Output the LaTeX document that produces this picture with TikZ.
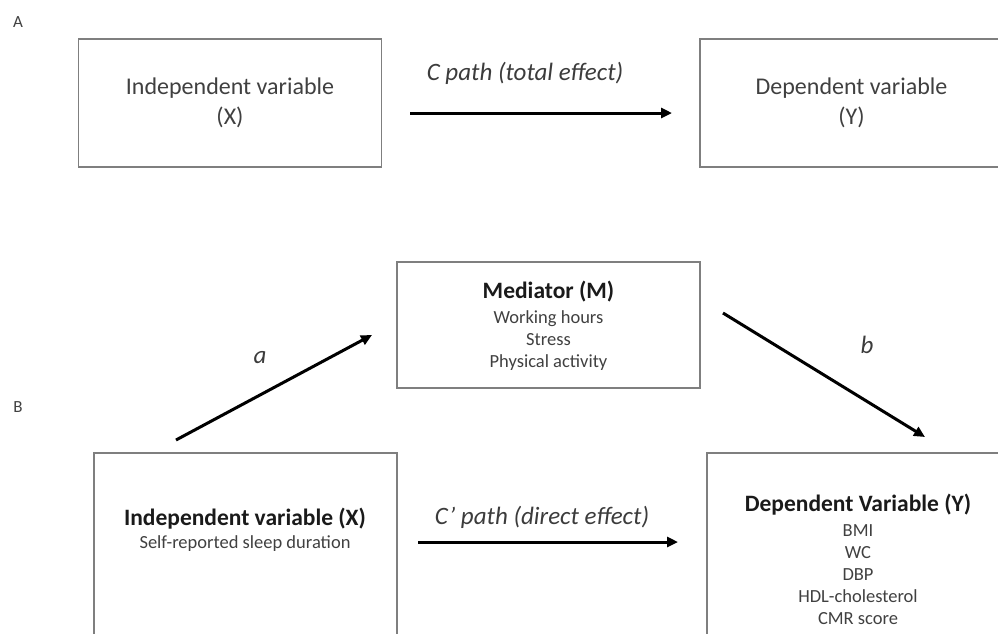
\documentclass[tikz,border=0pt]{standalone}
\usepackage{fontspec}
\setmainfont{Carlito}
\usetikzlibrary{arrows.meta}
\definecolor{boxgray}{HTML}{7F7F7F}
\definecolor{txtgray}{HTML}{404040}
\definecolor{titleblk}{HTML}{1A1A1A}
\begin{document}
\begin{tikzpicture}[x=1pt,y=-1pt,
  box/.style={draw=boxgray, line width=1.3pt, inner sep=0pt, minimum width=303pt, align=center},
  boxtext/.style={text=txtgray, align=center, font=\fontsize{24}{30}\selectfont},
  ttl/.style={text=titleblk, font=\fontsize{23.5}{26}\selectfont\bfseries, inner sep=0pt},
  lst/.style={text=txtgray, align=center, font=\fontsize{18.5}{22}\selectfont, inner sep=0pt},
  pathlbl/.style={text=titleblk!85, font=\fontsize{25}{28}\selectfont\itshape, inner sep=0pt},
  panel/.style={text=txtgray, font=\fontsize{17}{20}\selectfont, inner sep=0pt},
  arr/.style={line width=3pt, -{Triangle[length=11pt,width=10pt]}}]
\useasboundingbox (0,0) rectangle (998,633);
% panel letters
\node[panel] (pa) at (18,22) {A};
\node[panel] (pb) at (18,407) {B};
% Panel A
\node[box, minimum height=128pt, boxtext] (xa) at (230,103) {Independent variable\\(X)};
\node[box, minimum height=128pt, boxtext] (ya) at (851.5,103) {Dependent variable\\(Y)};
\coordinate (ca1) at (410,113);
\coordinate (ca2) at (672,113);
\draw[arr] (ca1) -- (ca2);
\node[pathlbl] (clbl) at (525,73) {C path (total effect)};
% Panel B
\node[box, minimum height=126pt] (med) at (548.5,325) {};
\node[ttl] (medt) at (548.5,292) {Mediator (M)};
\node[lst, anchor=north] (medl) at ([yshift=-8pt]medt.south) {Working hours\\Stress\\Physical activity};
\node[box, minimum height=247pt] (xb) at (245.5,576.5) {};
\node[ttl] (xbt) at (245,519) {Independent variable (X)};
\node[lst] (xbl) at (245,544) {Self-reported sleep duration};
\node[box, minimum height=247pt] (yb) at (858.5,576.5) {};
\node[ttl] (ybt) at (858,505) {Dependent Variable (Y)};
\node[lst, anchor=north] (ybl) at ([yshift=-9pt]ybt.south) {BMI\\WC\\DBP\\HDL-cholesterol\\CMR score};
% arrows
\coordinate (a1) at (176,440);
\coordinate (a2) at (372,335);
\draw[arr] (a1) -- (a2);
\node[pathlbl] (alb) at (260,358) {a};
\coordinate (b1) at (723,313);
\coordinate (b2) at (925,437);
\draw[arr] (b1) -- (b2);
\node[pathlbl] (blb) at (867,345) {b};
\coordinate (c1) at (418,542);
\coordinate (c2) at (678,542);
\draw[arr] (c1) -- (c2);
\node[pathlbl] (cplb) at (542,517) {C’ path (direct effect)};
\end{tikzpicture}
\end{document}
